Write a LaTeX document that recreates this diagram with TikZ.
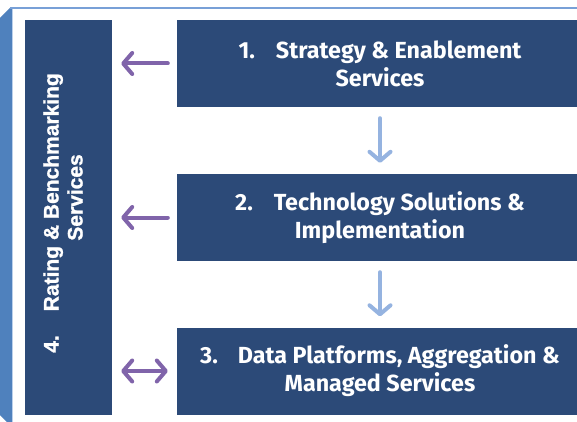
\documentclass[tikz,border=0pt]{standalone}
\usepackage{fontspec}
\setmainfont{Fira Sans}
\newfontfamily\arialfont[BoldFont={Liberation Sans Bold}, BoldFeatures={FakeBold=1.2}]{Liberation Sans}
\usetikzlibrary{arrows.meta}
\definecolor{boxblue}{RGB}{44,74,120}
\definecolor{sideblue}{RGB}{79,129,189}
\definecolor{rimblue}{RGB}{120,160,215}
\definecolor{arrpurple}{RGB}{128,100,170}
\definecolor{arrblue}{RGB}{149,179,224}
\tikzset{
  stepbox/.style={fill=boxblue, text=white, inner sep=0pt, align=center,
    minimum width=406pt, minimum height=87pt,
    font=\bfseries\fontsize{23.3}{28}\selectfont},
  sidebox/.style={fill=boxblue, inner sep=0pt,
    minimum width=87pt, minimum height=395pt},
  sidetext/.style={text=white, inner sep=0pt, align=center, rotate=90,
    font=\arialfont\bfseries\fontsize{21}{24}\selectfont},
  sidearrow/.style={arrpurple, line width=4pt, line cap=round,
    shorten <=9pt, shorten >=9pt},
  downarrow/.style={arrblue, line width=4pt, line cap=round,
    shorten <=11pt, shorten >=11pt},
  barb/.tip={Straight Barb[length=9pt, width=21pt, round]}
}
\begin{document}
\begin{tikzpicture}[x=1pt, y=-1pt]
    \useasboundingbox (0,0) rectangle (577,422);
    % frame
    \fill [sideblue] (0,18) -- (10,8) -- (12,8) -- (12,422) -- (7,422) -- (0,415) -- cycle;
    \draw [rimblue, line width=2pt] (10,8) -- (577,8);
    \draw [rimblue!50, line width=0.8pt] (12,9) -- (12,422);
    % boxes
    \node [sidebox] (rating) at (68.5,217.5) {};
    \node [sidetext] (ratingtext) at (63,213)
      {4.\hspace{24pt}Rating \& Benchmarking\\\hspace{31pt}Services};
    \node [stepbox] (strat) at (380,63.5)
      {1.\hspace{21pt}Strategy \& Enablement\\Services};
    \node [stepbox] (tech) at (380,217.5)
      {2.\hspace{21pt}Technology Solutions \&\\Implementation};
    \node [stepbox] (data) at (380,371)
      {3.\hspace{20pt}Data Platforms, Aggregation \&\\Managed Services};
    % arrows
    \draw [sidearrow, -barb] (strat.west) -- (strat.west -| rating.east);
    \draw [sidearrow, -barb] (tech.west) -- (tech.west -| rating.east);
    \draw [sidearrow, barb-barb] (data.west) -- (data.west -| rating.east);
    \draw [downarrow, -barb] (strat.south) -- (tech.north);
    \draw [downarrow, -barb] (tech.south) -- (data.north);
\end{tikzpicture}
\end{document}
